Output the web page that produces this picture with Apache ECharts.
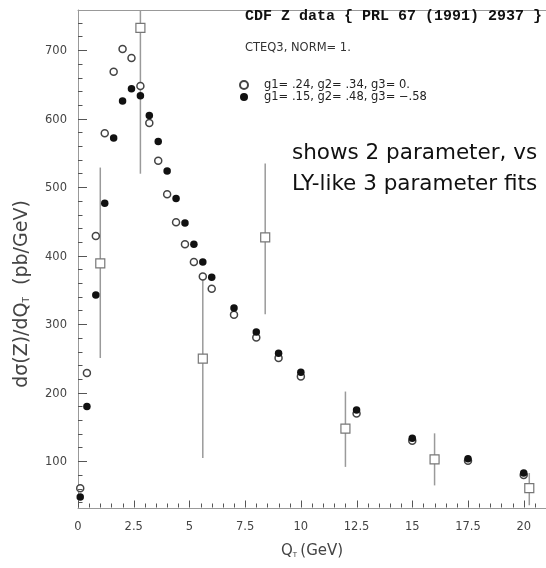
<!DOCTYPE html>
<html>
<head>
<meta charset="utf-8">
<script src="https://cdn.jsdelivr.net/npm/echarts@6/dist/echarts.min.js"></script>
<style>
  html, body { margin: 0; padding: 0; background: #fff; }
  #chart { width: 546px; height: 568px; }
</style>
</head>
<body>
<div id="chart"></div>
<script>
// fit curves, sampled points (QT in GeV, pb/GeV)
const qtFit = [0.1, 0.4, 0.8, 1.2, 1.6, 2.0, 2.4, 2.8, 3.2, 3.6, 4.0, 4.4, 4.8, 5.2, 5.6, 6.0, 7, 8, 9, 10, 12.5, 15, 17.5, 20];
const fit2 = [62, 230, 430, 580, 670, 703, 690, 649, 595, 540, 491, 450, 418, 392, 371, 353, 315, 282, 252, 225, 171, 131, 102, 81];
const fit3 = [49, 181, 344, 478, 573, 627, 645, 635, 606, 568, 525, 485, 449, 418, 392, 370, 325, 290, 259, 231, 176, 135, 105, 84];

// CDF data with error bars
const qtData = [1.0, 2.8, 5.6, 8.4, 12.0, 16.0, 20.25];
const cdf = [390, 734, 251, 428, 149, 104, 62];
const cdfLow = [252, 521, 106, 316, 93, 66, 37];
const cdfHigh = [530, 760, 372, 536, 203, 142, 84];

// tick values (labels at the major ones)
const xMajorTicks = [0, 2.5, 5, 7.5, 10, 12.5, 15, 17.5, 20];
const yMajorTicks = [100, 200, 300, 400, 500, 600, 700];
const xMinorStep = 0.5;
const yMinorStep = 20;

const legend2 = 'g1= .24, g2= .34, g3= 0.';
const legend3 = 'g1= .15, g2= .48, g3= \u2212.58';

const font = 'DejaVu Sans';
const xMin = 0, xMax = 21, yMin = 33, yMax = 760;

// tick marks: [x, y, length, isXAxis]
const tickData = [];
for (let v = xMin; v < xMax; v += xMinorStep) {
  const major = xMajorTicks.indexOf(v) >= 0;
  tickData.push([v, yMin, major ? 7 : 4, 1]);
}
for (let v = 40; v < yMax; v += yMinorStep) {
  const major = yMajorTicks.indexOf(v) >= 0;
  tickData.push([xMin, v, major ? 9 : 4.5, 0]);
}

const chart = echarts.init(document.getElementById('chart'));

chart.setOption({
  animation: false,
  backgroundColor: '#fff',
  title: {
    text: 'CDF Z data { PRL 67 (1991) 2937 }',
    subtext: 'CTEQ3, NORM= 1.',
    left: 245,
    top: 9,
    padding: 0,
    itemGap: 18,
    textStyle: { fontFamily: 'Liberation Mono', fontWeight: 'bold', fontSize: 15, color: '#111' },
    subtextStyle: { fontFamily: font, fontSize: 11.5, color: '#333' }
  },
  legend: {
    orient: 'vertical',
    left: 239,
    top: 79,
    padding: 0,
    itemGap: 0,
    itemWidth: 8,
    itemHeight: 8,
    textStyle: { fontFamily: font, fontSize: 11.5, color: '#222', lineHeight: 11, padding: [0, 0, 0, 11] },
    data: [legend2, legend3]
  },
  grid: { left: 78, right: -3.5, top: 10, bottom: 60 },
  xAxis: [
    {
      type: 'value',
      min: xMin,
      max: xMax,
      interval: 2.5,
      name: '{q|Q}{s|T} {q|(GeV)}',
      nameLocation: 'middle',
      nameGap: 36,
      nameTextStyle: {
        rich: {
          q: { fontFamily: font, fontSize: 15, color: '#444' },
          s: { fontFamily: font, fontSize: 7, color: '#444', padding: [8, 0, 0, 0] }
        }
      },
      axisLine: { show: true, onZero: false, lineStyle: { color: '#999', width: 1 } },
      axisTick: { show: false },
      axisLabel: { margin: 13, fontFamily: font, fontSize: 11.5, color: '#444', showMaxLabel: false },
      splitLine: { show: false }
    },
    {
      type: 'value',
      position: 'top',
      min: xMin,
      max: xMax,
      axisLine: { show: true, onZero: false, lineStyle: { color: '#999', width: 1 } },
      axisTick: { show: false },
      axisLabel: { show: false },
      splitLine: { show: false }
    }
  ],
  yAxis: {
    type: 'value',
    min: yMin,
    max: yMax,
    splitNumber: 7,
    axisLine: { show: true, lineStyle: { color: '#999', width: 1 } },
    axisTick: { show: false },
    axisLabel: { margin: 11, fontFamily: font, fontSize: 11.5, color: '#444', showMinLabel: false, showMaxLabel: false },
    splitLine: { show: false }
  },
  graphic: [
    {
      type: 'text',
      x: 22,
      y: 294,
      rotation: Math.PI / 2,
      style: {
        text: '{t|d\u03c3(Z)/dQ}{s|T}{t|  (pb/GeV)}',
        align: 'center',
        verticalAlign: 'middle',
        rich: {
          t: { fontFamily: font, fontSize: 19, fill: '#444' },
          s: { fontFamily: font, fontSize: 9, fill: '#444', padding: [10, 0, 0, 0] }
        }
      }
    },
    {
      type: 'text',
      left: 292,
      top: 138,
      style: {
        text: 'shows 2 parameter, vs\nLY-like 3 parameter fits',
        fontFamily: font,
        fontSize: 21.5,
        lineHeight: 31,
        fill: '#111'
      }
    }
  ],
  series: [
    {
      // inward tick marks on the bottom and left axes, snapped to pixel centres
      type: 'custom',
      name: 'ticks',
      clip: false,
      silent: true,
      progressive: 0,
      z: 5,
      encode: { x: 0, y: 1 },
      data: tickData,
      renderItem: function (params, api) {
        const p = api.coord([api.value(0), api.value(1)]);
        const len = api.value(2);
        const onX = api.value(3) === 1;
        const px = Math.round(p[0]) + 0.5;
        const py = Math.round(p[1]) - 0.5;
        return {
          type: 'line',
          shape: onX
            ? { x1: px, y1: py, x2: px, y2: py - len }
            : { x1: Math.round(p[0]), y1: py, x2: Math.round(p[0]) + len, y2: py },
          style: { stroke: '#555', lineWidth: 1 }
        };
      }
    },
    {
      type: 'custom',
      name: 'errors',
      clip: true,
      z: 1,
      encode: { x: 0, y: [1, 2] },
      data: qtData.map((x, i) => [x, cdfLow[i], cdfHigh[i]]),
      renderItem: function (params, api) {
        const lo = api.coord([api.value(0), api.value(1)]);
        const hi = api.coord([api.value(0), api.value(2)]);
        return {
          type: 'line',
          shape: { x1: lo[0], y1: lo[1], x2: hi[0], y2: hi[1] },
          style: { stroke: '#9a9a9a', lineWidth: 1.5 }
        };
      }
    },
    {
      type: 'scatter',
      name: 'CDF',
      z: 2,
      symbol: 'rect',
      symbolSize: 9,
      itemStyle: { color: '#fff', borderColor: '#777', borderWidth: 1.2, opacity: 1 },
      data: qtData.map((x, i) => [x, cdf[i]])
    },
    {
      type: 'scatter',
      name: legend2,
      z: 3,
      symbol: 'circle',
      symbolSize: 7,
      itemStyle: { color: '#fff', borderColor: '#444', borderWidth: 1.5, opacity: 1 },
      data: qtFit.map((x, i) => [x, fit2[i]])
    },
    {
      type: 'scatter',
      name: legend3,
      z: 4,
      symbol: 'circle',
      symbolSize: 7.5,
      itemStyle: { color: '#111', opacity: 1 },
      data: qtFit.map((x, i) => [x, fit3[i]])
    }
  ]
});
</script>
</body>
</html>
